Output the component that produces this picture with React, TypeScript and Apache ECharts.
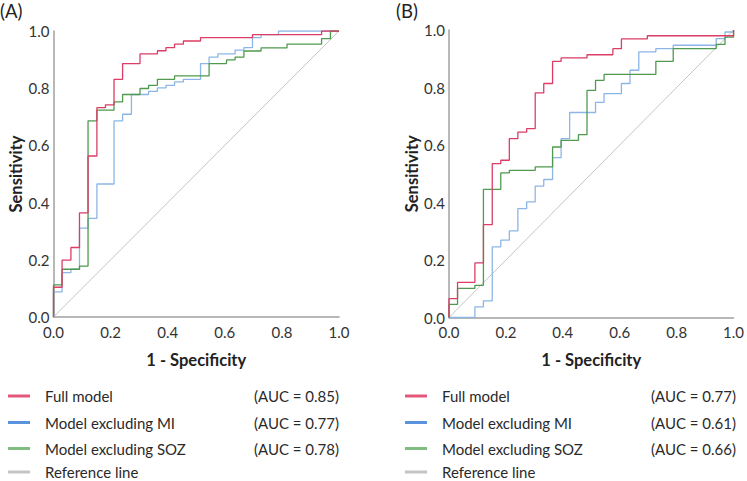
import React, { useEffect, useRef } from "react";
import * as echarts from "echarts";

// ---- Data ----
const seriesNames = ["Full model", "Model excluding MI", "Model excluding SOZ", "Reference line"];
const aucA = ["(AUC = 0.85)", "(AUC = 0.77)", "(AUC = 0.78)"];
const aucB = ["(AUC = 0.77)", "(AUC = 0.61)", "(AUC = 0.66)"];
const tickLabels = ["0.0", "0.2", "0.4", "0.6", "0.8", "1.0"];
const panelTitles = ["(A)", "(B)"];
const xAxisTitle = "1 - Specificity";
const yAxisTitle = "Sensitivity";

// Panel A
const aFullFpr = [0, 0, 0.03, 0.061, 0.091, 0.121, 0.152, 0.182, 0.212, 0.242, 0.303, 0.364, 0.394, 0.424, 0.455, 0.515, 0.697, 0.939, 1];
const aFullTpr = [0, 0.104, 0.199, 0.243, 0.364, 0.563, 0.732, 0.742, 0.831, 0.886, 0.92, 0.931, 0.942, 0.954, 0.965, 0.977, 0.987, 1, 1];
const aMiFpr = [0, 0, 0.03, 0.061, 0.091, 0.121, 0.152, 0.212, 0.242, 0.273, 0.333, 0.364, 0.394, 0.424, 0.455, 0.515, 0.545, 0.576, 0.636, 0.667, 0.697, 0.727, 0.788, 1];
const aMiTpr = [0, 0.088, 0.155, 0.167, 0.311, 0.345, 0.465, 0.686, 0.709, 0.778, 0.789, 0.801, 0.81, 0.822, 0.831, 0.886, 0.909, 0.92, 0.933, 0.942, 0.977, 0.987, 1, 1];
const aSozFpr = [0, 0, 0.03, 0.091, 0.121, 0.152, 0.212, 0.242, 0.303, 0.333, 0.364, 0.424, 0.545, 0.606, 0.636, 0.667, 0.727, 0.818, 0.939, 0.97, 1];
const aSozTpr = [0, 0.112, 0.167, 0.178, 0.686, 0.723, 0.752, 0.778, 0.799, 0.81, 0.831, 0.843, 0.886, 0.899, 0.909, 0.93, 0.941, 0.954, 0.973, 1, 1];

// Panel B
const bFullFpr = [0, 0, 0.03, 0.091, 0.121, 0.152, 0.182, 0.212, 0.242, 0.273, 0.303, 0.333, 0.364, 0.394, 0.485, 0.576, 0.606, 0.697, 1, 1];
const bFullTpr = [0, 0.066, 0.122, 0.19, 0.323, 0.535, 0.547, 0.622, 0.645, 0.657, 0.781, 0.814, 0.891, 0.903, 0.914, 0.935, 0.969, 0.98, 0.98, 1];
const bMiFpr = [0, 0.091, 0.121, 0.152, 0.182, 0.212, 0.242, 0.273, 0.303, 0.333, 0.364, 0.394, 0.424, 0.515, 0.545, 0.606, 0.636, 0.667, 0.727, 0.788, 0.939, 0.97, 1];
const bMiTpr = [0, 0.037, 0.058, 0.246, 0.269, 0.301, 0.379, 0.402, 0.457, 0.48, 0.556, 0.622, 0.713, 0.748, 0.779, 0.814, 0.86, 0.924, 0.935, 0.947, 0.97, 0.993, 1];
const bSozFpr = [0, 0, 0.03, 0.091, 0.121, 0.182, 0.212, 0.303, 0.364, 0.394, 0.455, 0.485, 0.515, 0.545, 0.727, 0.788, 0.939, 0.97, 1];
const bSozTpr = [0, 0.046, 0.101, 0.112, 0.446, 0.503, 0.512, 0.524, 0.593, 0.616, 0.636, 0.79, 0.825, 0.846, 0.891, 0.935, 0.95, 0.975, 1];

const refFpr = [0, 1];
const refTpr = [0, 1];

const lineColors = ["#dc3d66", "#8cb6e6", "#4f9a4f", "#c4c4c4"];
const legendColors = ["#e2577a", "#5a93dd", "#80bd80", "#c4c4c4"];

const FONT = "Lato, 'Open Sans', sans-serif";

function pairs(x: number[], y: number[]) {
  return x.map((v, i) => [v, y[i]]);
}

export default function App() {
  const ref = useRef<HTMLDivElement>(null);
  useEffect(() => {
    if (!ref.current) return;
    const chart = echarts.init(ref.current, undefined, { renderer: "svg" });

    const grids = [
      { left: 53.5, top: 31, width: 285.5, height: 286 },
      { left: 449, top: 30, width: 288, height: 287.5 },
    ];

    const axisCommon = {
      type: "value" as const,
      min: 0,
      max: 1,
      interval: 0.2,
      axisLine: { show: true, lineStyle: { color: "#a0a0a0", width: 1.5 } },
      axisTick: { show: false },
      splitLine: { show: false },
    };

    const xAxes = grids.map((_, i) => ({
      ...axisCommon,
      gridIndex: i,
      name: xAxisTitle,
      nameLocation: "middle",
      nameGap: 34,
      nameTextStyle: { fontFamily: FONT, fontSize: 16.5, fontWeight: "bold", color: "#222" },
      axisLabel: {
        fontFamily: FONT,
        fontSize: 15,
        color: "#333",
        margin: 7,
        formatter: (v: number) => tickLabels[Math.round(v * 5)],
      },
    }));
    const yAxes = grids.map((_, i) => ({
      ...axisCommon,
      gridIndex: i,
      name: yAxisTitle,
      nameLocation: "middle",
      nameGap: 27,
      nameTextStyle: { fontFamily: FONT, fontSize: 16.5, fontWeight: "bold", color: "#222" },
      axisLabel: {
        fontFamily: FONT,
        fontSize: 15,
        color: "#333",
        margin: 4,
        formatter: (v: number) => tickLabels[Math.round(v * 5)],
      },
    }));

    const panelData = [
      [pairs(aFullFpr, aFullTpr), pairs(aMiFpr, aMiTpr), pairs(aSozFpr, aSozTpr)],
      [pairs(bFullFpr, bFullTpr), pairs(bMiFpr, bMiTpr), pairs(bSozFpr, bSozTpr)],
    ];

    const series: any[] = [];
    panelData.forEach((curves, p) => {
      series.push({
        type: "line",
        name: seriesNames[3],
        xAxisIndex: p,
        yAxisIndex: p,
        data: pairs(refFpr, refTpr),
        symbol: "none",
        lineStyle: { color: lineColors[3], width: 1 },
        z: 1,
      });
      // draw order: MI (blue), SOZ (green), Full (red) on top
      [1, 2, 0].forEach((k) => {
        series.push({
          type: "line",
          name: seriesNames[k],
          xAxisIndex: p,
          yAxisIndex: p,
          data: curves[k],
          step: "end",
          symbol: "none",
          lineStyle: { color: lineColors[k], width: 1.3 },
          z: 2 + (k === 0 ? 3 : k),
        });
      });
    });

    const legendRowsY = [396, 422.5, 448.5, 472];
    const legendLayouts = [
      { lineX1: 8, lineX2: 30, textX: 45, aucX: 254, auc: aucA },
      { lineX1: 405, lineX2: 427, textX: 442, aucX: 651, auc: aucB },
    ];
    const graphic: any[] = [];
    legendLayouts.forEach((lg) => {
      seriesNames.forEach((name, i) => {
        const y = legendRowsY[i];
        graphic.push({
          type: "line",
          shape: { x1: lg.lineX1, y1: y, x2: lg.lineX2, y2: y },
          style: { stroke: legendColors[i], lineWidth: 3 },
        });
        graphic.push({
          type: "text",
          x: lg.textX,
          y: y,
          style: { text: name, font: `15px ${FONT}`, fill: "#2a2a2a", verticalAlign: "middle" },
        });
        if (i < 3) {
          graphic.push({
            type: "text",
            x: lg.aucX,
            y: y,
            style: { text: lg.auc[i], font: `15px ${FONT}`, fill: "#2a2a2a", verticalAlign: "middle" },
          });
        }
      });
    });
    graphic.push({
      type: "text",
      x: 0,
      y: 11,
      style: { text: panelTitles[0], font: `18.5px ${FONT}`, fill: "#222", verticalAlign: "middle" },
    });
    graphic.push({
      type: "text",
      x: 396,
      y: 11,
      style: { text: panelTitles[1], font: `18.5px ${FONT}`, fill: "#222", verticalAlign: "middle" },
    });

    chart.setOption({
      animation: false,
      backgroundColor: "#ffffff",
      grid: grids,
      xAxis: xAxes,
      yAxis: yAxes,
      series,
      graphic,
    });
    return () => chart.dispose();
  }, []);

  return (
    <div
      ref={ref}
      style={{ position: "absolute", left: 0, top: 0, width: 747, height: 481 }}
    />
  );
}
